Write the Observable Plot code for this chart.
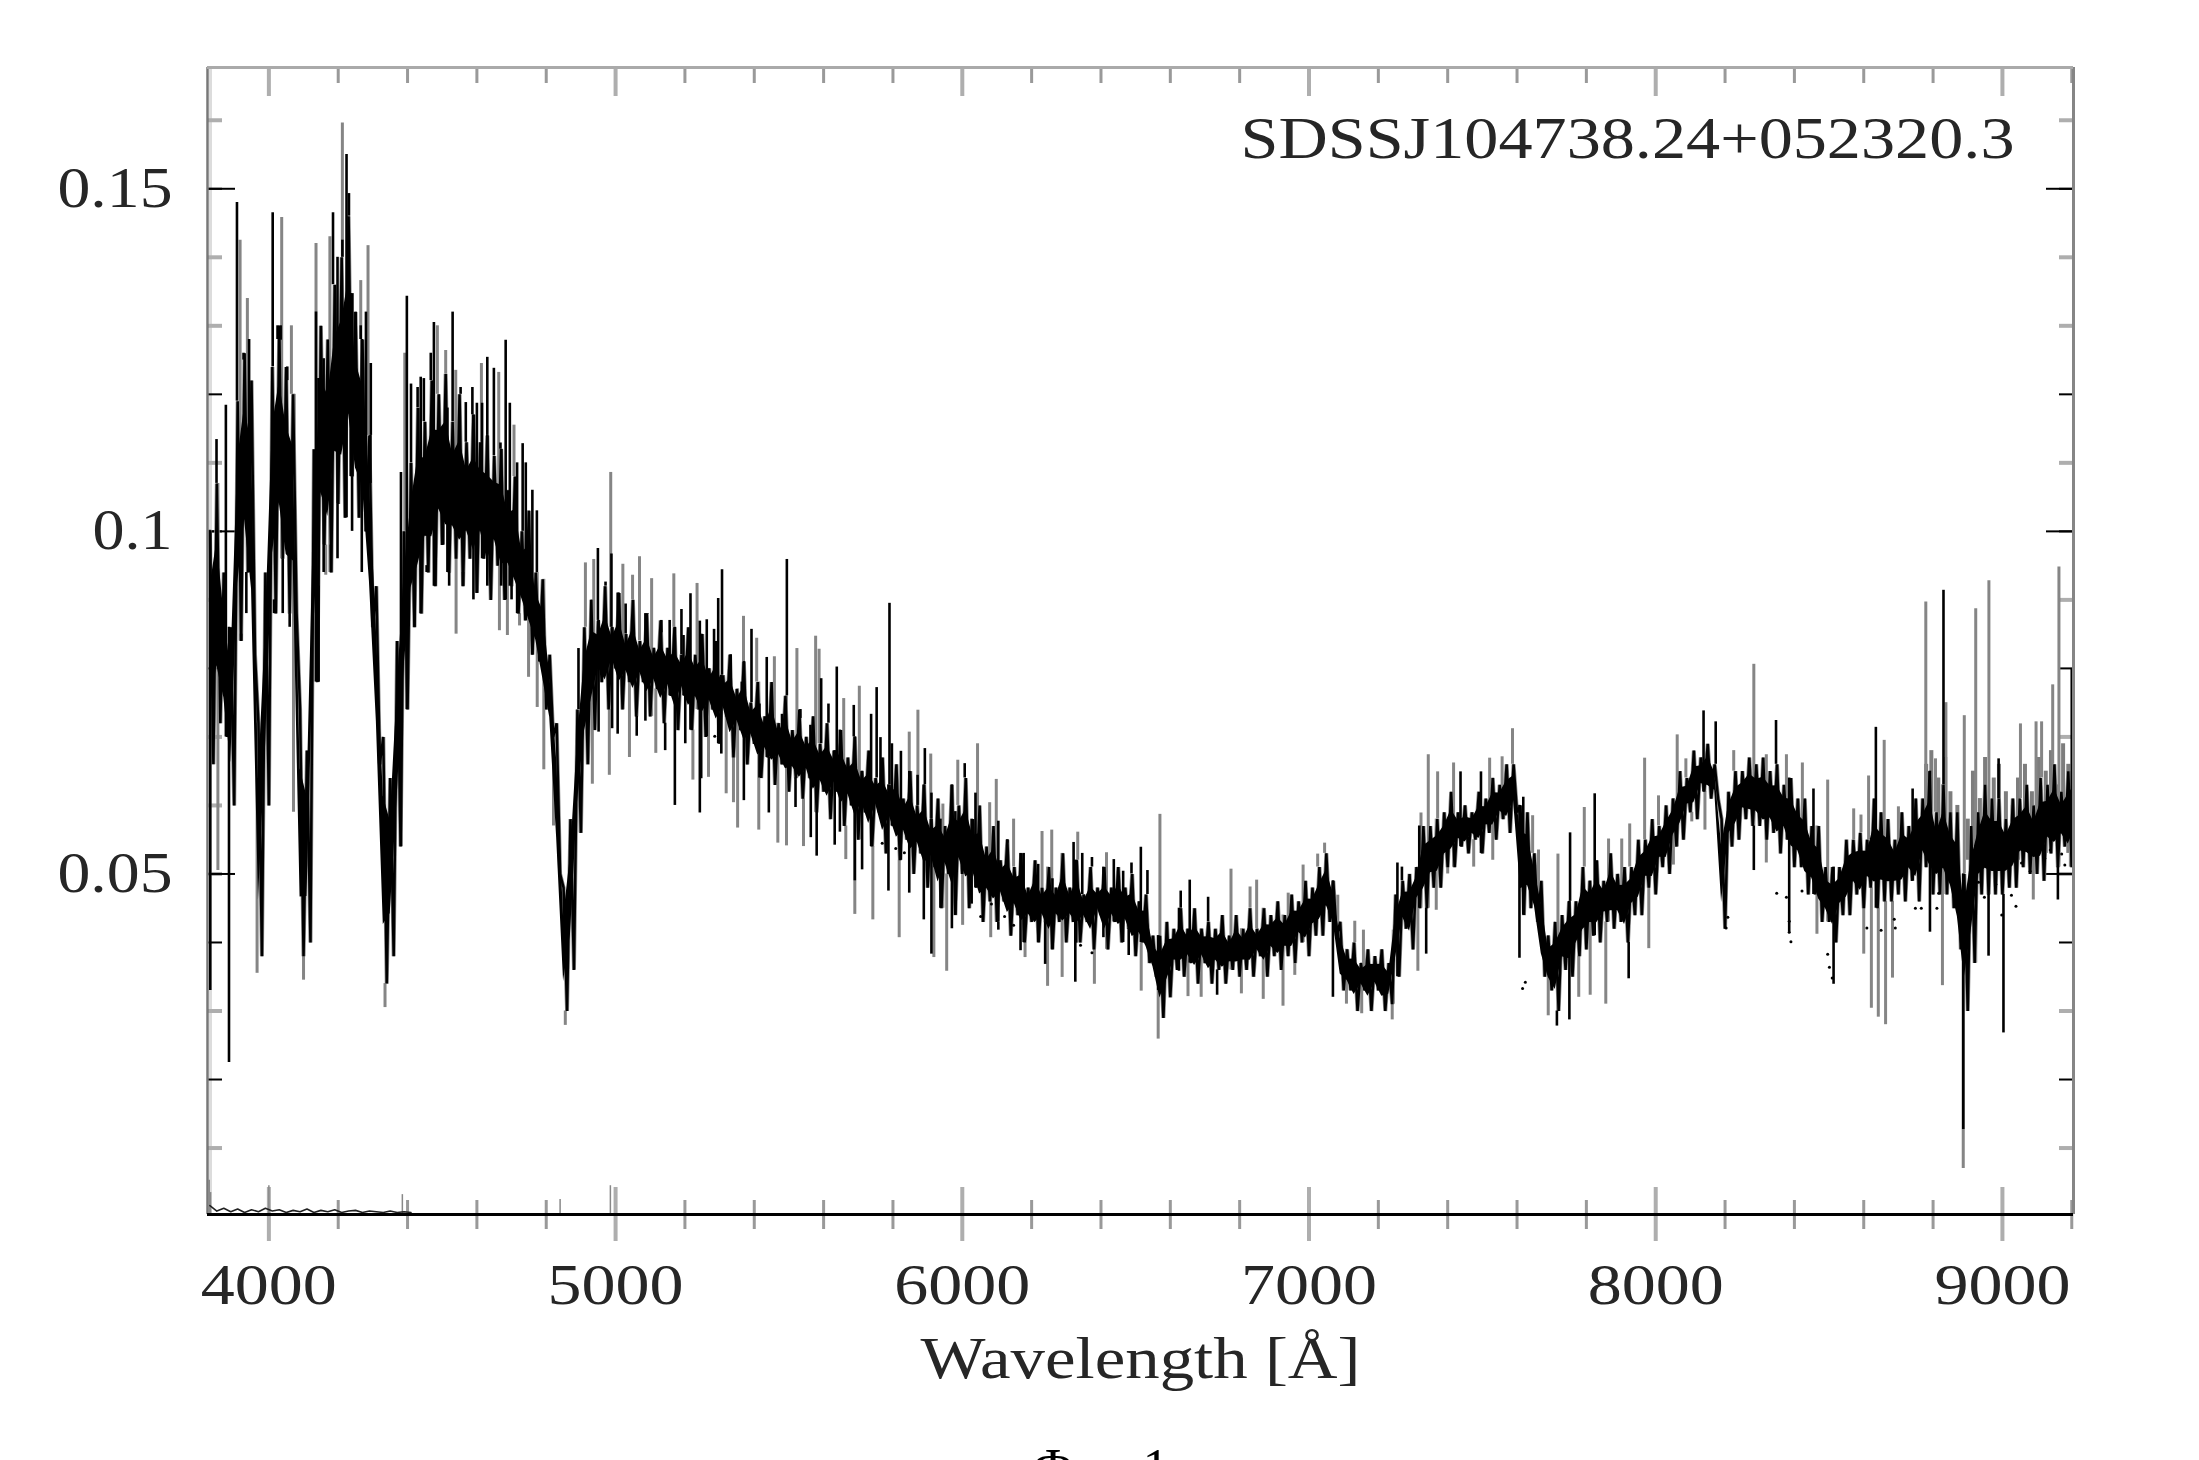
<!DOCTYPE html>
<html>
<head>
<meta charset="utf-8">
<style>html,body{margin:0;padding:0;background:#fff;overflow:hidden}</style>
<script src="https://cdn.jsdelivr.net/npm/d3@7"></script>
<script src="https://cdn.jsdelivr.net/npm/@observablehq/plot@0.6"></script>
</head>
<body>
<div id="chart"></div>
<script>
const objectName = "SDSSJ104738.24+052320.3";
const xTitle = "Wavelength [Å]";
const figureCaption = "Фиг. 1";
const xDomain = [3823, 9205];
const yDomain = [0.0003, 0.1677];
const xMajorTicks = [4000, 5000, 6000, 7000, 8000, 9000];
const xMinorTicks = [4200,4400,4600,4800,5200,5400,5600,5800,6200,6400,6600,6800,7200,7400,7600,7800,8200,8400,8600,8800,9200];
const yLabelTicks = [0.05, 0.1, 0.15];
const yDarkTicks = [0.02, 0.04, 0.08, 0.1, 0.12, 0.15];
const yGreyTicks = [0.01, 0.03, 0.05, 0.06, 0.07, 0.09, 0.11, 0.13, 0.14, 0.16];

// Flux in units of 0.001, read alternately as upper / lower edge of the dense trace, one row per 100 Å
const coreStart = 3830, coreStep = 10;
const coreFlux = [
100,66, 107,72, 94,70, 86,60, 119,84,
126,94, 122,82, 72,38, 94,60, 124,88,
130,96, 124,88, 120,88, 74,38, 68,40,
112,78, 130,98, 128,94, 136,104, 140,102,
146,108, 132,102, 128,100, 114,86, 92,66,
70,34, 64,38, 84,54, 100,74, 110,86,
118,88, 116,94, 122,92, 120,98, 123,94,
116,96, 120,92, 113,96, 117,91, 113,96,
114,90, 111,95, 112,90, 106,92, 108,88,
100,87, 103,82, 94,81, 93,74, 82,70,
72,50, 48,30, 58,36, 74,56, 86,66,
90,71, 87,78, 92,74, 86,80, 91,74,
85,78, 90,73, 84,78, 88,73, 83,77,
87,72, 83,76, 86,71, 82,76, 86,71,
82,74, 85,70, 80,74, 84,69, 79,73,
82,67, 77,71, 81,66, 75,69, 78,64,
73,67, 78,63, 72,66, 76,62, 71,64,
74,61, 70,64, 73,59, 69,62, 72,58,
68,62, 71,57, 67,60, 70,55, 65,59,
68,54, 64,59, 67,53, 63,57, 66,52,
61,55, 65,50, 60,53, 63,48, 58,51,
61,45, 57,50, 63,44, 60,50, 64,45,
58,48, 60,43, 54,46, 57,43, 52,46,
55,41, 51,44, 53,40, 48,43, 52,40,
48,43, 51,39, 48,43, 53,40, 48,43,
52,40, 47,43, 51,39, 48,44, 51,39,
48,43, 51,40, 48,42, 50,38, 46,40,
47,37, 41,35, 41,29, 43,32, 42,36,
45,35, 42,37, 45,34, 42,37, 43,34,
42,36, 44,34, 41,36, 44,35, 42,36,
45,35, 42,38, 45,35, 44,38, 46,36,
44,38, 47,37, 46,40, 49,38, 48,41,
51,41, 53,43, 49,41, 43,33, 39,33,
40,30, 37,33, 39,30, 38,33, 39,30,
37,31, 47,35, 49,42, 50,39, 51,45,
57,45, 57,48, 58,48, 59,51, 62,51,
59,54, 60,53, 59,55, 62,53, 61,56,
64,55, 63,58, 66,56, 66,59, 60,44,
59,45, 53,43, 49,35, 41,33, 43,30,
44,36, 46,35, 46,38, 51,39, 49,41,
52,40, 49,43, 53,42, 50,43, 51,40,
51,44, 55,44, 55,48, 58,47, 57,51,
60,50, 61,54, 65,55, 64,59, 68,58,
67,62, 69,61, 66,61, 58,42, 62,54,
65,55, 65,58, 67,57, 66,57, 67,55,
65,56, 66,53, 63,55, 64,51, 61,51,
61,47, 57,47, 57,43, 51,43, 51,40,
51,44, 55,44, 55,47, 56,45, 55,48,
61,45, 59,46, 58,46, 55,47, 59,46,
57,49, 61,46, 61,51, 65,47, 59,47,
63,47, 59,45, 59,39, 50,30, 57,37,
59,47, 63,47, 61,47, 61,47, 58,48,
61,48, 61,51, 63,50, 60,50, 64,49,
63,53, 66,51, 62,54, 65,51, 66,54
];
// Grey strokes above the trace at the red end
const fringeWave = [8780,8795,8815,8835,8850,8870,8900,8915,8935,8950,8975,8990,9010,9030,9045,9065,9085,9105,9125,9140,9160,9175,9190];
const fringeHigh = [66,68,64,67,62,60,58,65,61,67,64,66,62,60,64,66,62,67,65,68,63,69,66];
const fringeLow = [54,52,55,50,53,50,52,54,50,53,56,52,53,55,52,54,51,56,53,57,54,56,53];

const blackUpWave = [3849,3876,3908,3927,3943,4011,4025,4034,4053,4136,4143,4158,4185,4198,4212,4224,4231,4236,4241,4250,4265,4280,4293,4294,4381,4398,4410,4429,4438,4447,4467,4476,4503,4515,4530,4553,4568,4587,4600,4615,4630,4649,4668,4683,4695,4716,4732,4741,4760,4773,4893,4949,4971,4988,5009,5029,5092,5132,5156,5190,5196,5216,5243,5263,5284,5296,5307,5332,5364,5392,5415,5436,5480,5494,5533,5562,5593,5614,5638,5687,5737,5753,5764,5790,5797,5823,5871,5892,5911,5937,5980,6007,6038,6104,6130,6177,6219,6260,6321,6346,6374,6437,6464,6488,6515,6534,6630,6656,6709,7255,7268,7318,7437,7496,7618,7753,7824,8138,8173,8347,8455,8635,8741,8830,8989,9200];
const blackUpFlux = [113.4,118.4,148,125,128,146.5,128,127.9,122,132,122.3,125.2,146.5,140,142.5,155,149.3,134.7,134.7,126,130,132,107,124.5,108.6,134.3,121.5,121,122.5,122.3,126,130.5,115.2,118,132,121,118.8,121,118.7,118.7,125.4,123.8,112.9,127.9,118.7,110,112.8,110,106,103,82.9,97.5,92.6,96.7,90.7,89.4,87.9,85.2,87,88.6,84.8,90.9,86.9,87.1,85.7,90.2,94.4,78.5,78,85.7,74.8,81.6,73.3,95.9,72.7,71.7,78.5,74.8,80.2,74.6,73.3,77.2,69.9,89.5,69,67.9,64.4,68.3,61.8,58,59.1,66.1,61.8,57.7,54.5,53,51.4,49.3,54.6,53,52.4,52.1,50.4,51.6,53.9,50.5,47.5,49.1,46.6,51.6,51,57,64.9,64.9,61.2,56,61.7,73.8,72.2,72.4,62.4,71.4,62.4,91.4,66.8,80];

const greyUpWave = [3917,3938,4037,4065,4073,4136,4153,4176,4212,4265,4286,4392,4486,4510,4539,4613,4663,4707,4986,4913,4937,5021,5049,5069,5104,5168,5235,5369,5407,5458,5523,5577,5587,5658,5703,5847,5872,5909,5944,5987,6044,6079,6098,6148,6230,6258,6333,6416,6570,6775,6830,6849,6940,6983,7025,7045,7083,7132,7157,7243,7323,7344,7371,7417,7521,7557,7587,7645,7662,7718,7794,7864,7902,7925,7968,8008,8062,8087,8225,8283,8319,8377,8423,8496,8571,8592,8614,8659,8700,8779,8807,8837,8890,8923,8961,9052,9097,9113,9145,9163];
const greyUpFlux = [142.5,134,145.8,130,111,142,130,143,159.6,136.6,141.7,126,130,126.4,123.5,124.5,123.2,115.5,108.6,95.4,95.9,95.2,93.6,96.3,93.1,93.8,92.4,87.6,84.4,81.7,82.9,84.7,82.8,75.6,77.4,70.7,73.9,67.5,60.2,66.6,69,60.4,63.8,58,56.2,56.4,56.1,53.1,58.7,50.7,48.1,49.1,47.2,51.3,52.9,54.5,46.9,43.1,41.8,41.8,58.9,67.4,64.9,66.2,66.9,67.1,71.2,58.5,53.5,52.9,59.7,55.1,55.1,57.3,66.9,61.4,70.3,66.8,68,80.6,67.4,67.4,66.2,63.7,59.5,58.6,64.3,69.5,59.8,89.7,66.8,75,73.1,88.7,92.8,71.9,72.2,72.2,77.6,94.8];

const blackDownWave = [3831,3885,3920,3935,4015,4040,4060,4143,4158,4179,4198,4240,4268,4420,4455,4480,4520,4560,4590,4630,4670,4700,4951,4990,5006,5061,5086,5143,5171,5201,5243,5247,5305,5370,5442,5519,5563,5580,5632,5647,5690,5711,5787,5847,5889,5911,5970,6027,6104,6168,6239,6326,6329,6407,6480,6523,6565,6625,6735,7069,7338,7607,7715,7751,7922,8283,8385,8513,8791,8887,8960,9003,9160];
const blackDownFlux = [33,22.5,85,88,90,88,86,92,94,98,96,100,94,90,95,98,92,94,90,92,92,90,70.7,71.2,70.4,70.1,72.3,68,60,69,58.9,63.9,67.5,60.7,58.9,59.7,55.3,52.6,54.2,56.1,49,50.6,47.5,47.2,43.3,38.3,42,45.6,41.8,38.8,36.8,34.2,39.9,40.7,38.1,40.5,33,35.8,32.3,32,38.3,37.7,27.8,28.7,34.7,50.5,41.5,33.9,41.5,12.7,38,26.8,46.2];

const greyDownWave = [3853,3966,4071,4100,4164,4335,4437,4540,4665,4688,4723,4749,4774,4793,4821,4855,4898,4933,4982,5040,5116,5223,5268,5319,5340,5352,5413,5468,5493,5542,5664,5690,5742,5818,5918,5955,6001,6082,6181,6246,6288,6381,6516,6565,6651,6689,6805,6868,6925,6959,7108,7152,7240,7314,7367,7400,7475,7530,7690,7778,7811,7856,7980,8051,8104,8142,8319,8465,8600,8622,8642,8663,8683,8827,8887,9089,9196];
const greyDownFlux = [50.5,35.5,59,34.5,93.6,30.5,94.5,85,85.5,84.8,86.2,78.7,74.3,65.2,57,27.9,60.2,63.1,64.4,67,67.6,63.7,64.1,61.7,60.4,56.7,56.4,54.5,54.1,54,52.1,44.1,43.3,40.7,37.8,35.8,42.5,40.7,37.8,33.6,34.9,33.9,32.9,25.9,32.1,32,32.5,31.7,30.7,35.2,31,29.6,28.7,35.8,44.7,50,51,52,29.3,32,32.3,31,39.1,51.3,57.6,56.4,51.6,41.2,38.3,30.4,29.1,28,34.8,33.7,7,46.2,55.4];

// Scattered points of the second, lower spectrum
const dotWave = [5286,5769,5808,5833,6053,6084,6122,6148,6341,6374,7616,7624,8203,8208,8349,8377,8385,8385,8390,8422,8496,8501,8509,8609,8650,8688,8691,8749,8766,8811,8816,8840,8857,8915,8931,8948,8981,8998,9026,9039,9047,9055,9072,9080,9089,9105,9122,9122,9138,9155,9171,9180,9185];
const dotFlux = [70.1,54.5,53.7,53.1,43.8,45.6,43.8,42.5,39.6,38.5,33.3,34.2,42.1,43.7,47.2,46.6,43.1,41.5,40.1,47.5,38.3,36.4,34.8,42.1,41.8,43.4,42.1,45,45,45,47.2,51,51.3,48.5,48.8,46.6,48.5,44,46.9,45.3,53.5,51.6,53.5,50.4,55.1,54.8,52.3,56.1,53.5,55.4,52.9,51.3,56.1];

// Error spectrum along the baseline
const errorWave = [3830,3850,3870,3890,3910,3930,3950,3970,3990,4010,4030,4050,4070,4090,4110,4130,4150,4170,4190,4210,4230,4250,4270,4290,4310,4330,4350,4370,4390,4410];
const errorFlux = [1.6,0.8,1.2,0.7,1.1,0.6,1.0,0.7,1.2,0.8,1.0,0.6,0.9,0.7,1.1,0.6,0.9,0.7,1.0,0.6,0.8,0.9,0.6,0.8,0.7,0.6,0.8,0.6,0.7,0.6];
const errorSpikeWave = [3828,3832,4000,4385,4840,4985];
const errorSpikeFlux = [5.3,3.5,4.5,3.2,2.5,4.5];

const toRows = (w, f) => w.map((wave, i) => ({wave, flux: f[i] / 1000}));
const core = coreFlux.map((f, i) => ({wave: coreStart + coreStep * i, flux: f / 1000}));
const band = core.flatMap((d, i) => i % 2 ? [] : [{
  wave: d.wave,
  top: d.flux - 0.24 * (d.flux - core[i + 1].flux),
  bottom: core[i + 1].flux + 0.24 * (d.flux - core[i + 1].flux)
}]);
const fringe = fringeWave.map((wave, i) => ({wave, top: fringeHigh[i] / 1000, bottom: fringeLow[i] / 1000}));
const baseAt = wave => core[Math.max(0, Math.min(core.length - 1, Math.round((wave - coreStart) / coreStep)))].flux;
const spikes = (w, f) => toRows(w, f).map(d => ({...d, base: baseAt(d.wave)}));

const serif = "Liberation Serif";
const ink = "#262626";
const tickGrey = "#aeaeae";
const fluxPerPixel = (yDomain[1] - yDomain[0]) / (1460 - 67 - 246);
const edgeTick = (ticks, up, down, strokeWidth, stroke) =>
  Plot.ruleX(ticks, {y1: yDomain[0] - down * fluxPerPixel, y2: yDomain[0] + up * fluxPerPixel, stroke, strokeWidth});

const chart = Plot.plot({
  width: 2199, height: 1460,
  marginLeft: 207, marginRight: 126, marginTop: 67, marginBottom: 246,
  style: {background: "#fff"},
  x: {domain: xDomain},
  y: {domain: yDomain},
  marks: [
    Plot.ruleX([xDomain[0]], {stroke: "#dcdcdc", strokeWidth: 3, dx: 3}),
    // ticks
    Plot.axisX(xMajorTicks, {anchor: "top", tickSize: -28, strokeWidth: 4, stroke: tickGrey, fill: "none", label: null}),
    Plot.axisX(xMinorTicks, {anchor: "top", tickSize: -15, strokeWidth: 3, stroke: "#999", fill: "none", label: null}),
    edgeTick(xMajorTicks, 27, 27, 4, tickGrey),
    edgeTick(xMinorTicks, 14, 15, 3, "#999"),
    Plot.axisY(yGreyTicks, {anchor: "left", tickSize: -15, strokeWidth: 4, stroke: tickGrey, fill: "none", label: null}),
    Plot.axisY(yGreyTicks, {anchor: "right", tickSize: -15, strokeWidth: 4, stroke: tickGrey, fill: "none", label: null}),
    Plot.axisY(yDarkTicks, {anchor: "left", tickSize: -15, strokeWidth: 2, stroke: "#000", fill: "none", label: null}),
    Plot.axisY(yDarkTicks, {anchor: "right", tickSize: -15, strokeWidth: 2, stroke: "#000", fill: "none", label: null}),
    Plot.axisY(yLabelTicks, {anchor: "left", tickSize: -28, strokeWidth: 2, stroke: "#000", fill: "none", label: null}),
    Plot.axisY(yLabelTicks, {anchor: "right", tickSize: -28, strokeWidth: 2, stroke: "#000", fill: "none", label: null}),
    // spectrum
    Plot.ruleX(fringe, {x: "wave", y1: "bottom", y2: "top", stroke: "#7d7d7d", strokeWidth: 4, clip: true}),
    Plot.ruleX(spikes(greyUpWave, greyUpFlux), {x: "wave", y1: "base", y2: "flux", stroke: "#858585", strokeWidth: 3, clip: true}),
    Plot.ruleX(spikes(greyDownWave, greyDownFlux), {x: "wave", y1: "base", y2: "flux", stroke: "#858585", strokeWidth: 3, clip: true}),
    Plot.line(core, {x: "wave", y: "flux", stroke: "#8a8a8a", strokeWidth: 4, strokeLinejoin: "miter", clip: true}),
    Plot.areaY(band, {x: "wave", y1: "bottom", y2: "top", fill: "#000", clip: true}),
    Plot.line(core, {x: "wave", y: "flux", stroke: "#000", strokeWidth: 2.5, strokeLinejoin: "miter", clip: true}),
    Plot.ruleX(spikes(blackUpWave, blackUpFlux), {x: "wave", y1: "base", y2: "flux", stroke: "#000", strokeWidth: 2.6, clip: true}),
    Plot.ruleX(spikes(blackDownWave, blackDownFlux), {x: "wave", y1: "base", y2: "flux", stroke: "#000", strokeWidth: 2.6, clip: true}),
    Plot.dot(toRows(dotWave, dotFlux), {x: "wave", y: "flux", r: 1.5, fill: "#000"}),
    Plot.ruleX(toRows(errorSpikeWave, errorSpikeFlux), {x: "wave", y1: yDomain[0], y2: "flux", stroke: "#888", strokeWidth: 1.5}),
    Plot.line(toRows(errorWave, errorFlux), {x: "wave", y: "flux", stroke: "#222", strokeWidth: 1.6}),
    // frame
    Plot.ruleX([xDomain[0]], {stroke: "#777", strokeWidth: 2.5}),
    Plot.ruleX([xDomain[1]], {stroke: "#858585", strokeWidth: 3}),
    Plot.ruleY([yDomain[1]], {stroke: "#aaa", strokeWidth: 3}),
    Plot.ruleY([yDomain[0]], {stroke: "#000", strokeWidth: 3}),
    // text
    Plot.axisX(xMajorTicks, {anchor: "bottom", tickSize: 0, tickPadding: 50, fontSize: 56, fontFamily: serif, fill: ink, stroke: "none", label: null, tickFormat: d => String(d)}),
    Plot.axisY(yLabelTicks, {anchor: "left", tickSize: 0, tickPadding: 35, fontSize: 56, fontFamily: serif, fill: ink, stroke: "none", label: null, tickFormat: d => String(d)}),
    Plot.text([objectName], {frameAnchor: "top-right", lineAnchor: "middle", dx: -59, dy: 71, fontSize: 60, fontFamily: serif, fill: ink, className: "wide-object"}),
    Plot.text([xTitle], {frameAnchor: "bottom", lineAnchor: "bottom", dy: 163, fontSize: 60, fontFamily: serif, fill: ink, className: "wide-title"}),
    Plot.text([figureCaption], {frameAnchor: "bottom", textAnchor: "start", lineAnchor: "bottom", dx: -108, dy: 270, fontSize: 52, fontFamily: serif, fill: "#000"})
  ]
});
document.getElementById("chart").append(chart);

const stretch = (sel, len) => chart.querySelectorAll(sel).forEach(t => {
  const l = typeof len === "function" ? len(t) : len;
  t.setAttribute("textLength", l);
  t.setAttribute("lengthAdjust", "spacingAndGlyphs");
});
stretch('[aria-label="x-axis tick label"] text', 136);
stretch('[aria-label="y-axis tick label"] text', t => t.textContent.length === 3 ? 80 : 115);
stretch('.wide-object text', 774);
stretch('.wide-title text', 440);
</script>
</body>
</html>
